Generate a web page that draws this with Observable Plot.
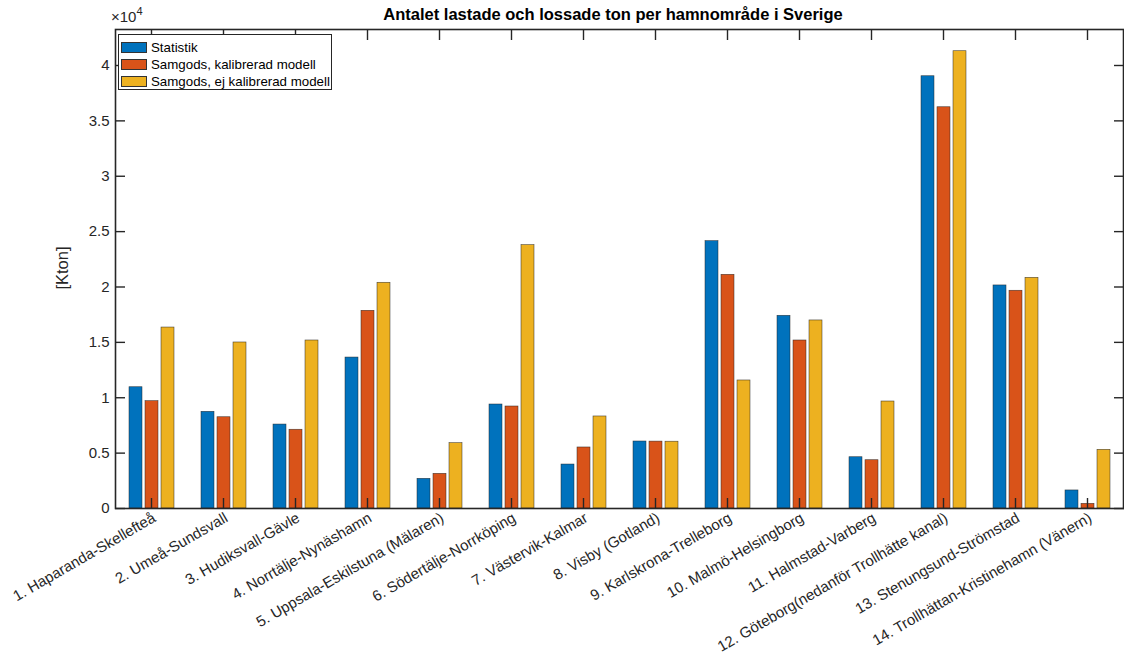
<!DOCTYPE html>
<html>
<head>
<meta charset="utf-8">
<script src="https://cdn.jsdelivr.net/npm/d3@7"></script>
<script src="https://cdn.jsdelivr.net/npm/@observablehq/plot@0.6"></script>
<style>
  body { margin: 0; overflow: hidden; background: #fff; }
  #wrap { position: relative; width: 1124px; height: 654px; overflow: hidden;
          font-family: "Liberation Sans", Arial, sans-serif; color: #262626; }
  #wrap svg { position: absolute; left: 0; top: 0; max-width: none !important; }
  .title { position: absolute; left: 104px; width: 1018px; top: 5px; text-align: center;
           font-weight: bold; font-size: 16.5px; color: #000; }
  .expo { position: absolute; left: 111px; top: 6px; font-size: 15px; }
  .expo sup { font-size: 11px; position: relative; top: -1px; }
  .ylab { position: absolute; left: 62px; top: 268px; font-size: 16.5px;
          transform: translate(-50%, -50%) rotate(-90deg); white-space: nowrap; }
  .legend { position: absolute; left: 118px; top: 34px; width: 212px; height: 54px;
            border: 1.2px solid #262626; background: #fff; }
  .legend .row { position: absolute; left: 2px; height: 12px; display: flex; align-items: center; }
  .legend .sw { width: 26px; height: 11px; border: 0.6px solid #333; box-sizing: border-box; }
  .legend .lb { margin-left: 4px; font-size: 13.3px; color: #000; white-space: nowrap; }
</style>
</head>
<body>
<div id="wrap"></div>
<script>
// Port regions (hamnområden)
const regions = [
  "1. Haparanda-Skellefteå",
  "2. Umeå-Sundsvall",
  "3. Hudiksvall-Gävle",
  "4. Norrtälje-Nynäshamn",
  "5. Uppsala-Eskilstuna (Mälaren)",
  "6. Södertälje-Norrköping",
  "7. Västervik-Kalmar",
  "8. Visby (Gotland)",
  "9. Karlskrona-Trelleborg",
  "10. Malmö-Helsingborg",
  "11. Halmstad-Varberg",
  "12. Göteborg(nedanför Trollhätte kanal)",
  "13. Stenungsund-Strömstad",
  "14. Trollhättan-Kristinehamn (Vänern)"
];

const seriesNames = ["Statistik", "Samgods, kalibrerad modell", "Samgods, ej kalibrerad modell"];

// Loaded and unloaded tonnage, Kton
const statistik    = [10950, 8730, 7580, 13630, 2680, 9390, 3970, 6050, 24140, 17400, 4630, 39030, 20140, 1630];
const kalibrerad   = [9690, 8240, 7110, 17850, 3130, 9210, 5510, 6040, 21100, 15170, 4360, 36230, 19660, 420];
const ejKalibrerad = [16340, 14990, 15170, 20380, 5900, 23780, 8310, 6030, 11560, 16980, 9660, 41290, 20830, 5300];

const yTicks = [0, 5000, 10000, 15000, 20000, 25000, 30000, 35000, 40000];
const yMax = 43250;

const colors = ["#0072BD", "#D95319", "#EDB120"];
const axisColor = "#262626";

const rows = regions.flatMap((region, i) => [
  {region, series: seriesNames[0], value: statistik[i]},
  {region, series: seriesNames[1], value: kalibrerad[i]},
  {region, series: seriesNames[2], value: ejKalibrerad[i]}
]);

const chart = Plot.plot({
  width: 1132,
  height: 654,
  marginLeft: 110,
  marginRight: 4,
  marginTop: 29,
  marginBottom: 146,
  style: {fontFamily: "Liberation Sans, Arial, sans-serif", fontSize: "15px", color: axisColor, background: "transparent"},
  fx: {domain: regions, padding: 0, label: null},
  x: {domain: seriesNames, paddingInner: 0.2, paddingOuter: 0.83, axis: null},
  y: {domain: [0, yMax], label: null},
  color: {domain: seriesNames, range: colors},
  marks: [
    Plot.barY(rows, {fx: "region", x: "series", y: "value", fill: "series",
                     stroke: "#222", strokeWidth: 0.6, strokeOpacity: 0.8}),
    // inward ticks on all four sides
    Plot.axisY(yTicks, {anchor: "left", tickSize: -10, fill: "none", stroke: axisColor, strokeWidth: 1.4, label: null}),
    Plot.axisY(yTicks, {anchor: "right", tickSize: -10, fill: "none", stroke: axisColor, strokeWidth: 1.4, label: null}),
    Plot.axisFx({anchor: "bottom", tickSize: -10, fill: "none", stroke: axisColor, strokeWidth: 1.4, label: null}),
    Plot.axisFx({anchor: "top", tickSize: -10, fill: "none", stroke: axisColor, strokeWidth: 1.4, label: null}),
    // tick labels
    Plot.axisY(yTicks, {anchor: "left", tickSize: 0, tickPadding: 6, label: null, fill: axisColor,
                        tickFormat: d => String(d / 1e4)}),
    Plot.axisFx({anchor: "bottom", tickSize: 0, tickPadding: 3, tickRotate: -30, label: null, fill: axisColor,
                 textAnchor: "end", lineAnchor: "top", dx: 0}),
    Plot.frame({facet: "super", stroke: axisColor, strokeWidth: 1.6})
  ]
});

const wrap = document.getElementById("wrap");
wrap.appendChild(chart);

const title = document.createElement("div");
title.className = "title";
title.textContent = "Antalet lastade och lossade ton per hamnområde i Sverige";
wrap.appendChild(title);

const expo = document.createElement("div");
expo.className = "expo";
expo.innerHTML = "×10<sup>4</sup>";
wrap.appendChild(expo);

const ylab = document.createElement("div");
ylab.className = "ylab";
ylab.textContent = "[Kton]";
wrap.appendChild(ylab);

const legend = document.createElement("div");
legend.className = "legend";
seriesNames.forEach((name, i) => {
  const row = document.createElement("div");
  row.className = "row";
  row.style.top = (6 + i * 17) + "px";
  const sw = document.createElement("div");
  sw.className = "sw";
  sw.style.background = colors[i];
  const lb = document.createElement("span");
  lb.className = "lb";
  lb.textContent = name;
  row.appendChild(sw);
  row.appendChild(lb);
  legend.appendChild(row);
});
wrap.appendChild(legend);
</script>
</body>
</html>
